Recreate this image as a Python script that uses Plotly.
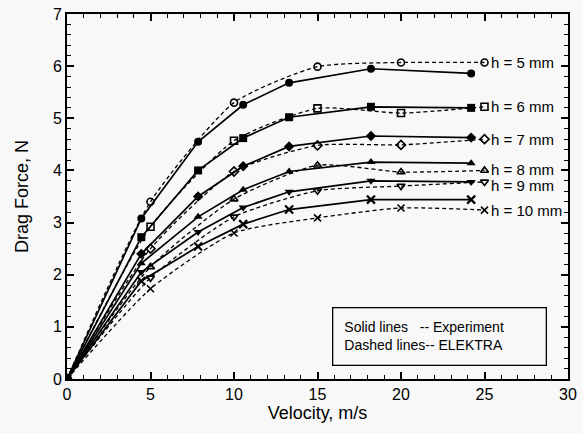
import plotly.graph_objects as go

# Experiment (solid lines) velocities
v_exp = [0, 4.45, 7.85, 10.55, 13.3, 18.2, 24.2]
# ELEKTRA (dashed lines) velocities
v_sim = [0, 5, 10, 15, 20, 25]

heights = ["h = 5 mm", "h = 6 mm", "h = 7 mm", "h = 8 mm", "h = 9 mm", "h = 10 mm"]

exp_h5 = [0, 3.08, 4.55, 5.26, 5.68, 5.95, 5.86]
exp_h6 = [0, 2.72, 4.00, 4.62, 5.02, 5.22, 5.20]
exp_h7 = [0, 2.40, 3.50, 4.08, 4.46, 4.66, 4.63]
exp_h8 = [0, 2.22, 3.11, 3.63, 3.98, 4.16, 4.14]
exp_h9 = [0, 2.05, 2.82, 3.29, 3.59, 3.80, 3.78]
exp_h10 = [0, 1.88, 2.54, 2.97, 3.25, 3.44, 3.44]

sim_h5 = [0, 3.40, 5.30, 5.99, 6.07, 6.07]
sim_h6 = [0, 2.92, 4.57, 5.19, 5.10, 5.22]
sim_h7 = [0, 2.50, 3.98, 4.48, 4.49, 4.60]
sim_h8 = [0, 2.15, 3.45, 4.10, 3.97, 4.00]
sim_h9 = [0, 1.94, 3.11, 3.61, 3.70, 3.78]
sim_h10 = [0, 1.73, 2.80, 3.09, 3.28, 3.24]

exp_all = [exp_h5, exp_h6, exp_h7, exp_h8, exp_h9, exp_h10]
sim_all = [sim_h5, sim_h6, sim_h7, sim_h8, sim_h9, sim_h10]

filled_sym = ["circle", "square", "diamond", "triangle-up", "triangle-down", "x-thin"]
open_sym = ["circle-open", "square-open", "diamond-open", "triangle-up-open",
            "triangle-down-open", "x-thin"]
label_y = [6.07, 5.22, 4.60, 4.02, 3.72, 3.24]

FONT = "Liberation Sans, Arial, Helvetica"

fig = go.Figure()
for i in range(6):
    fig.add_trace(go.Scatter(
        x=v_sim, y=sim_all[i], mode="lines+markers",
        line=dict(color="black", width=1.3, dash="4px,3px", shape="spline", smoothing=0.6),
        marker=dict(symbol=open_sym[i], size=7, color="black",
                    line=dict(color="black", width=1.6)),
        showlegend=False))
    fig.add_trace(go.Scatter(
        x=v_exp, y=exp_all[i], mode="lines+markers",
        line=dict(color="black", width=1.7),
        marker=dict(symbol=filled_sym[i], size=8, color="black",
                    line=dict(color="black", width=2.2 if i == 5 else 0)),
        showlegend=False))
    fig.add_annotation(x=25.25, y=label_y[i], text=heights[i], showarrow=False,
                       xanchor="left", yanchor="middle", xref="x", yref="y",
                       font=dict(family=FONT, size=15, color="black"))

fig.add_annotation(
    x=22.3, y=0.82, xref="x", yref="y", showarrow=False,
    text="Solid lines   -- Experiment<br>Dashed lines-- ELEKTRA",
    align="left", xanchor="center", yanchor="middle", width=190, height=34,
    bordercolor="black", borderwidth=1.3, borderpad=11, bgcolor="rgba(0,0,0,0)",
    font=dict(family=FONT, size=14, color="black"))

axis_common = dict(
    showgrid=False, zeroline=False, showline=True, linecolor="black", linewidth=2,
    mirror="ticks", ticks="inside", ticklen=7, tickwidth=1.5, tickcolor="black",
    tickfont=dict(family=FONT, size=16, color="black"),
)

fig.update_layout(
    template="none",
    width=583, height=433,
    margin=dict(l=67, r=15, t=14, b=54),
    paper_bgcolor="#f8f8f8", plot_bgcolor="#f8f8f8",
    xaxis=dict(range=[0, 30], dtick=5, tick0=0,
               minor=dict(ticks="inside", dtick=1, ticklen=4, tickcolor="black", tickwidth=1.2),
               title=dict(text="Velocity, m/s", standoff=4,
                          font=dict(family=FONT, size=18, color="black")),
               **axis_common),
    yaxis=dict(range=[0, 7], dtick=1, tick0=0,
               minor=dict(ticks="inside", dtick=0.2, ticklen=4, tickcolor="black", tickwidth=1.2),
               title=dict(text="Drag Force, N", standoff=20,
                          font=dict(family=FONT, size=18, color="black")),
               **axis_common),
)

fig.write_html("out.html")
